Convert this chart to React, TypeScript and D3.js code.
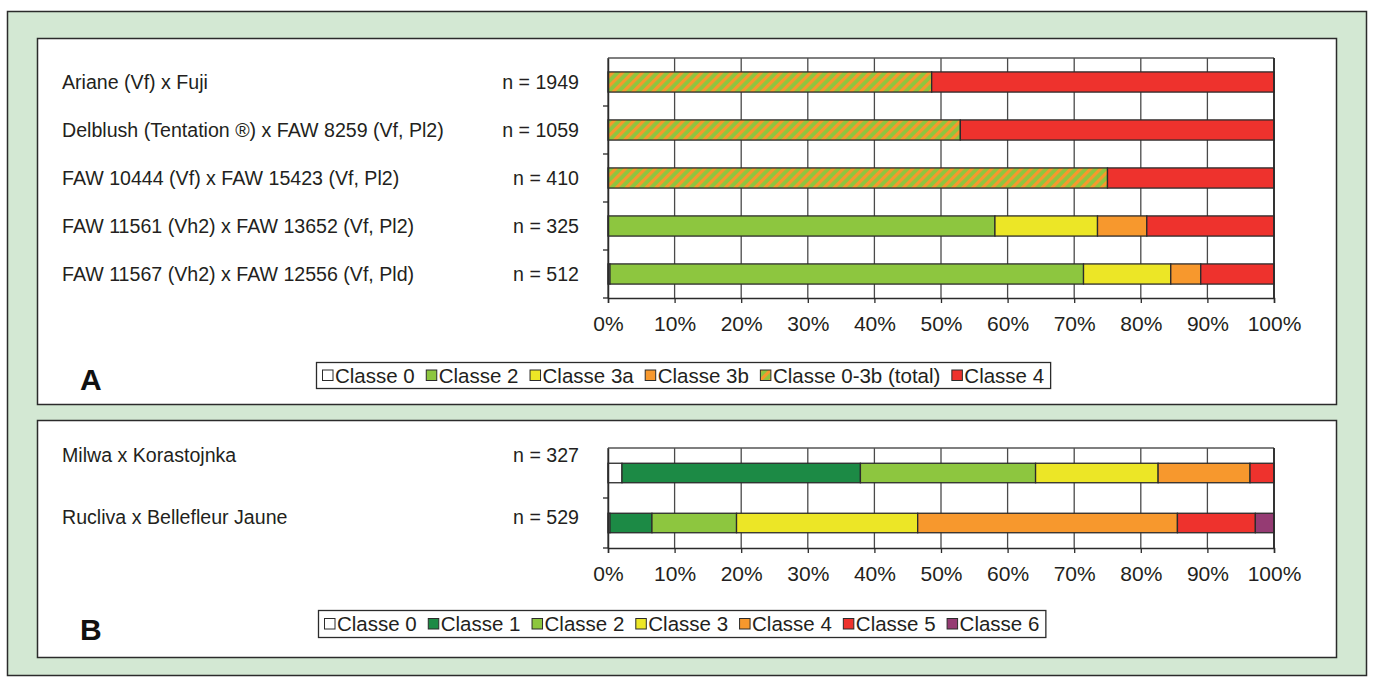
import React, { useEffect, useRef } from "react";
import * as d3 from "d3";

const crossesA = [
  "Ariane (Vf) x Fuji",
  "Delblush (Tentation ®) x FAW 8259 (Vf, Pl2)",
  "FAW 10444 (Vf) x FAW 15423 (Vf, Pl2)",
  "FAW 11561 (Vh2) x FAW 13652 (Vf, Pl2)",
  "FAW 11567 (Vh2) x FAW 12556 (Vf, Pld)",
];
const nA = [1949, 1059, 410, 325, 512];
const keysA = ["Classe 0", "Classe 2", "Classe 3a", "Classe 3b", "Classe 0-3b (total)", "Classe 4"];
const classe0A = [0, 0, 0, 0, 0.3];
const classe2A = [0, 0, 0, 58.1, 71.1];
const classe3aA = [0, 0, 0, 15.4, 13.1];
const classe3bA = [0, 0, 0, 7.4, 4.5];
const totalA = [48.6, 52.9, 75.0, 0, 0];
const classe4A = [51.4, 47.1, 25.0, 19.1, 11.0];

const crossesB = ["Milwa x Korastojnka", "Rucliva x Bellefleur Jaune"];
const nB = [327, 529];
const keysB = ["Classe 0", "Classe 1", "Classe 2", "Classe 3", "Classe 4", "Classe 5", "Classe 6"];
const classe0B = [2.1, 0.3];
const classe1B = [35.8, 6.3];
const classe2B = [26.3, 12.7];
const classe3B = [18.4, 27.2];
const classe4B = [13.8, 39.0];
const classe5B = [3.6, 11.7];
const classe6B = [0, 2.8];

const xTicks = [0, 10, 20, 30, 40, 50, 60, 70, 80, 90, 100];

const COL = {
  white: "#ffffff",
  dgreen: "#1c8a45",
  green: "#8dc63f",
  yellow: "#ece626",
  orange: "#f7982d",
  red: "#ee322d",
  purple: "#953b73",
  bg: "#d3e8d3",
  stroke: "#2b2b2b",
};
const colorsA = [COL.white, COL.green, COL.yellow, COL.orange, "url(#hatch)", COL.red];
const colorsB = [COL.white, COL.dgreen, COL.green, COL.yellow, COL.orange, COL.red, COL.purple];

const FONT = "'Liberation Sans', Arial, Helvetica, sans-serif";

export default function App() {
  const ref = useRef<SVGSVGElement | null>(null);

  useEffect(() => {
    const svg = d3.select(ref.current);
    svg.selectAll("*").remove();

    const defs = svg.append("defs");
    const pat = defs
      .append("pattern")
      .attr("id", "hatch")
      .attr("patternUnits", "userSpaceOnUse")
      .attr("width", 7)
      .attr("height", 7)
      .attr("patternTransform", "rotate(45)");
    pat.append("rect").attr("width", 7).attr("height", 7).attr("fill", COL.green);
    pat.append("rect").attr("x", 0).attr("width", 3.2).attr("height", 7).attr("fill", COL.orange);

    svg
      .append("rect")
      .attr("x", 7.5)
      .attr("y", 11.5)
      .attr("width", 1359)
      .attr("height", 664)
      .attr("fill", COL.bg)
      .attr("stroke", COL.stroke)
      .attr("stroke-width", 1.5);
    svg
      .append("rect")
      .attr("x", 37.5)
      .attr("y", 38.5)
      .attr("width", 1299)
      .attr("height", 366)
      .attr("fill", "#fff")
      .attr("stroke", COL.stroke)
      .attr("stroke-width", 1.5);
    svg
      .append("rect")
      .attr("x", 37.5)
      .attr("y", 420.5)
      .attr("width", 1299)
      .attr("height", 237)
      .attr("fill", "#fff")
      .attr("stroke", COL.stroke)
      .attr("stroke-width", 1.5);

    function drawPanel(opts: {
      crosses: string[];
      ns: number[];
      keys: string[];
      series: number[][];
      colors: string[];
      y0: number;
      y1: number;
      barFrac: number;
      labelOffsets: number[];
      legendX: number;
      legendY: number;
      legendH: number;
      letter: string;
      letterY: number;
    }) {
      const x = d3.scaleLinear().domain([0, 100]).range([608, 1274]);
      const y = d3.scaleBand().domain(opts.crosses).range([opts.y0, opts.y1]).padding(0);
      const g = svg.append("g");

      g.selectAll("line.grid")
        .data(xTicks)
        .join("line")
        .attr("x1", (d) => x(d))
        .attr("x2", (d) => x(d))
        .attr("y1", opts.y0)
        .attr("y2", opts.y1)
        .attr("stroke", "#4a4a4a")
        .attr("stroke-width", 1.3);
      g.append("line")
        .attr("x1", x(0))
        .attr("x2", x(100))
        .attr("y1", opts.y0)
        .attr("y2", opts.y0)
        .attr("stroke", "#555")
        .attr("stroke-width", 1.5);

      const table = opts.crosses.map((c, i) => {
        const row: any = { cross: c };
        opts.keys.forEach((k, j) => (row[k] = opts.series[j][i]));
        return row;
      });
      const stacked = d3.stack<any>().keys(opts.keys)(table);
      const bh = y.bandwidth() * opts.barFrac;
      stacked.forEach((layer, li) => {
        g.selectAll(null)
          .data(layer.filter((d) => d[1] - d[0] > 0))
          .join("rect")
          .attr("x", (d) => x(d[0]))
          .attr("width", (d) => x(d[1]) - x(d[0]))
          .attr("y", (d) => (y(d.data.cross) as number) + (y.bandwidth() - bh) / 2)
          .attr("height", bh)
          .attr("fill", opts.colors[li])
          .attr("stroke", COL.stroke)
          .attr("stroke-width", 1.3);
      });

      const xAxis = d3.axisBottom(x).tickValues(xTicks).tickFormat((d) => `${d}%`).tickSize(5).tickPadding(13);
      const ax = g.append("g").attr("transform", `translate(0,${opts.y1})`).call(xAxis);
      ax.select(".domain").attr("stroke", COL.stroke).attr("stroke-width", 1.5);
      ax.selectAll(".tick line").attr("stroke", COL.stroke).attr("stroke-width", 1.3);
      ax.selectAll("text").attr("font-family", FONT).attr("font-size", 21).attr("fill", "#231f20");

      const yAxis = d3.axisLeft(y).tickSize(0).tickFormat(() => "");
      const ay = g.append("g").attr("transform", `translate(${x(0)},0)`).call(yAxis);
      ay.select(".domain").attr("stroke", COL.stroke).attr("stroke-width", 1.5);
      const bounds = opts.crosses.slice(1).map((c) => y(c) as number).concat([opts.y1]);
      g.selectAll(null)
        .data(bounds)
        .join("line")
        .attr("x1", x(0) - 5)
        .attr("x2", x(0))
        .attr("y1", (d) => d)
        .attr("y2", (d) => d)
        .attr("stroke", COL.stroke)
        .attr("stroke-width", 1.3);

      g.append("line")
        .attr("x1", x(100))
        .attr("x2", x(100))
        .attr("y1", opts.y0)
        .attr("y2", opts.y1)
        .attr("stroke", COL.stroke)
        .attr("stroke-width", 1.8);

      g.selectAll(null)
        .data(opts.crosses)
        .join("text")
        .attr("x", 62)
        .attr("y", (d, i) => (y(d) as number) + y.bandwidth() / 2 + opts.labelOffsets[i])
        .attr("dy", "0.35em")
        .attr("font-family", FONT)
        .attr("font-size", 19.6)
        .attr("fill", "#231f20")
        .text((d) => d);
      g.selectAll(null)
        .data(opts.crosses)
        .join("text")
        .attr("x", 579)
        .attr("text-anchor", "end")
        .attr("y", (d, i) => (y(d) as number) + y.bandwidth() / 2 + opts.labelOffsets[i])
        .attr("dy", "0.35em")
        .attr("font-family", FONT)
        .attr("font-size", 19.6)
        .attr("fill", "#231f20")
        .text((d, i) => `n = ${opts.ns[i]}`);

      const lg = g.append("g");
      const box = lg
        .append("rect")
        .attr("x", opts.legendX + 0.5)
        .attr("y", opts.legendY + 0.5)
        .attr("height", opts.legendH)
        .attr("fill", "#fff")
        .attr("stroke", COL.stroke)
        .attr("stroke-width", 1.3);
      let cx = opts.legendX + 6;
      const cy = opts.legendY + opts.legendH / 2 + 0.5;
      opts.keys.forEach((k, i) => {
        lg.append("rect")
          .attr("x", cx + 0.5)
          .attr("y", cy - 5.5)
          .attr("width", 10.5)
          .attr("height", 10.5)
          .attr("fill", opts.colors[i])
          .attr("stroke", COL.stroke)
          .attr("stroke-width", 1);
        const t = lg
          .append("text")
          .attr("x", cx + 13)
          .attr("y", cy)
          .attr("dy", "0.36em")
          .attr("font-family", FONT)
          .attr("font-size", 20.5)
          .attr("fill", "#231f20")
          .text(k);
        const w = (t.node() as SVGTextElement).getComputedTextLength();
        cx += 13 + w + 11;
      });
      box.attr("width", cx - opts.legendX - 5);

      g.append("text")
        .attr("x", 80)
        .attr("y", opts.letterY)
        .attr("font-family", FONT)
        .attr("font-weight", "bold")
        .attr("font-size", 30)
        .attr("fill", "#111")
        .text(opts.letter);
    }

    drawPanel({
      crosses: crossesA,
      ns: nA,
      keys: keysA,
      series: [classe0A, classe2A, classe3aA, classe3bA, totalA, classe4A],
      colors: colorsA,
      y0: 58,
      y1: 298,
      barFrac: 0.42,
      labelOffsets: [0, 0, 0, 0, 0],
      legendX: 316,
      legendY: 362,
      legendH: 26,
      letter: "A",
      letterY: 390,
    });
    drawPanel({
      crosses: crossesB,
      ns: nB,
      keys: keysB,
      series: [classe0B, classe1B, classe2B, classe3B, classe4B, classe5B, classe6B],
      colors: colorsB,
      y0: 448,
      y1: 548,
      barFrac: 0.39,
      labelOffsets: [-18, -6],
      legendX: 318,
      legendY: 610,
      legendH: 27,
      letter: "B",
      letterY: 640,
    });
  }, []);

  return (
    <svg
      ref={ref}
      width={1373}
      height={682}
      style={{ position: "absolute", left: 0, top: 0, background: "#fff" }}
    />
  );
}
